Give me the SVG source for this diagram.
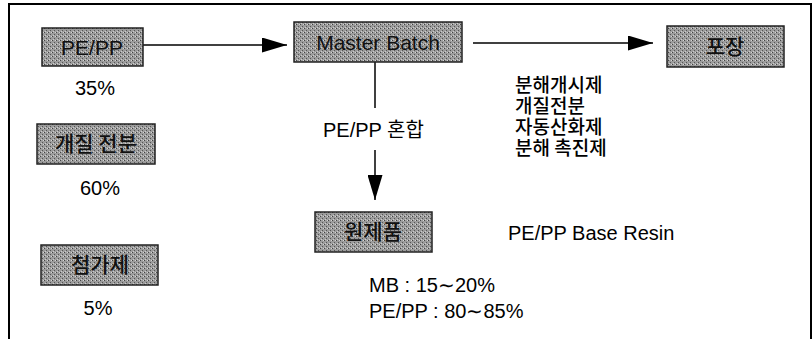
<svg xmlns="http://www.w3.org/2000/svg" width="812" height="339" viewBox="0 0 812 339">
<defs>
<pattern id="stip" width="4" height="4" patternUnits="userSpaceOnUse">
<rect width="4" height="4" fill="#9c9c9c"/>
<rect x="0" y="0" width="1" height="1" fill="#444"/>
<rect x="2" y="2" width="1" height="1" fill="#555"/>
<rect x="3" y="0" width="1" height="1" fill="#d4d4d4"/>
<rect x="1" y="3" width="1" height="1" fill="#cccccc"/>
</pattern>
<marker id="ah" viewBox="0 0 25 15" refX="25" refY="7.5" markerWidth="25" markerHeight="15" markerUnits="userSpaceOnUse" orient="auto">
<path d="M0,0 L25,7.5 L0,15 Z" fill="#000"/>
</marker>
<style>
.box{fill:url(#stip);stroke:#222;stroke-width:1.5}
.bt{font-family:"Liberation Sans","Noto Sans CJK KR",sans-serif;font-size:21px;fill:#111;text-anchor:middle}
.kb{font-family:"Noto Sans CJK KR",sans-serif;font-size:21px;font-weight:500;fill:#111;text-anchor:middle}
.kt{font-family:"Noto Sans CJK KR",sans-serif;font-size:19px;font-weight:500;fill:#000}
.lt{font-family:"Liberation Sans","Noto Sans CJK KR",sans-serif;font-size:20px;fill:#000}
.ln{stroke:#000;stroke-width:1.5;fill:none}
</style>
</defs>
<rect width="812" height="339" fill="#fff"/>
<path d="M9,339 L9,4 L811,4 L811,339" fill="none" stroke="#000" stroke-width="2"/>

<g id="connectors">
<line class="ln" x1="143" y1="45" x2="287" y2="45" marker-end="url(#ah)"/>
<line class="ln" x1="473" y1="43" x2="653" y2="43" marker-end="url(#ah)"/>
<line class="ln" x1="375" y1="62" x2="375" y2="108"/>
<line class="ln" x1="375" y1="150" x2="375" y2="200" marker-end="url(#ah)"/>
<text class="lt" x="323" y="137">PE/PP 혼합</text>
</g>

<g id="pepp">
<rect class="box" x="42" y="28" width="101" height="38"/>
<text class="bt" x="92" y="55">PE/PP</text>
<text class="lt" x="95" y="95" text-anchor="middle">35%</text>
</g>

<g id="masterbatch">
<rect class="box" x="294" y="22" width="168" height="40"/>
<text class="bt" x="378" y="50">Master Batch</text>
</g>

<g id="pojang">
<rect class="box" x="667" y="26" width="117" height="41"/>
<text class="kb" x="725" y="54">포장</text>
</g>

<g id="starch">
<rect class="box" x="37" y="124" width="118" height="40"/>
<text class="kb" x="96" y="151">개질 전분</text>
<text class="lt" x="100" y="195" text-anchor="middle">60%</text>
</g>

<g id="additive">
<rect class="box" x="41" y="245" width="117" height="40"/>
<text class="kb" x="100" y="272">첨가제</text>
<text class="lt" x="98" y="315" text-anchor="middle">5%</text>
</g>

<g id="product">
<rect class="box" x="315" y="212" width="117" height="40"/>
<text class="kb" x="373" y="239">원제품</text>
<text class="lt" x="508" y="240">PE/PP Base Resin</text>
<text class="lt" x="369" y="292">MB : 15∼20%</text>
<text class="lt" x="369" y="318">PE/PP : 80∼85%</text>
</g>

<g id="additives-list">
<text class="kt" x="515" y="92">분해개시제<tspan x="515" dy="21">개질전분</tspan><tspan x="515" dy="21">자동산화제</tspan><tspan x="515" dy="21">분해 촉진제</tspan></text>
</g>
</svg>
